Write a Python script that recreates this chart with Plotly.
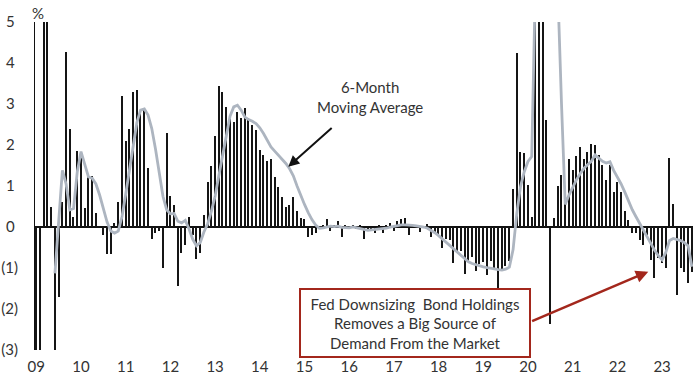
import plotly.graph_objects as go

# Monthly % change, Jan 2009 .. Sep 2023 (bars; values beyond the axis are clipped)
pct_change = [
    -3.6, -3.6, 5.6, 5.6, 0.5, -3.6, -1.7, 0.62, 4.28, 2.4, 0.24, 1.85,      # 2009
    1.7, 0.47, 1.3, 1.25, 0.33, 0.02, -0.2, -0.65, -0.65, 0.1, 0.6, 3.2,       # 2010
    2.1, 2.4, 3.3, 3.35, 2.75, 2.9, 1.43, -0.3, -0.15, -0.1, -1.0, 2.3,        # 2011
    0.76, 0.54, -1.45, -0.64, -0.44, 0.25, -0.2, -0.79, -0.64, 0.29, 1.1, 1.5, # 2012
    2.23, 3.45, 3.3, 2.93, 2.7, 2.57, 2.8, 2.67, 2.9, 2.65, 2.5, 2.37,         # 2013
    1.88, 1.75, 1.6, 1.67, 1.23, 0.98, 0.74, 0.5, 0.54, 0.72, 0.4, 0.22,       # 2014
    0.2, -0.24, -0.2, -0.14, -0.05, 0.05, 0.2, -0.1, 0.05, 0.15, -0.25, 0.05,  # 2015
    0.0, 0.05, -0.05, 0.05, -0.3, -0.1, -0.05, -0.15, 0.03, -0.15, 0.05, 0.1,  # 2016
    -0.1, 0.15, 0.2, 0.22, -0.2, 0.03, 0.02, -0.11, 0.02, 0.07, -0.25, -0.12,  # 2017
    -0.18, -0.52, -0.3, -0.32, -0.89, -0.62, -0.58, -1.14, -0.82, -0.74, -1.07, -0.9,  # 2018
    -0.86, -1.17, -0.82, -1.0, -1.5, -1.02, -0.95, -0.82, 0.92, 4.25, 1.82, 1.8,       # 2019
    1.03, 0.25, 5.6, 5.6, 5.6, 2.6, -2.36, 0.21, 1.0, 1.27, 0.6, 1.67,         # 2020
    1.39, 1.72, 1.96, 1.66, 1.84, 2.02, 2.0, 1.76, 1.51, 1.15, 1.51, 0.86,     # 2021
    1.1, 0.86, 0.4, 0.17, -0.15, -0.15, -0.32, -0.44, -0.2, -0.8, -1.25, -0.76,  # 2022
    -0.89, -1.0, 1.69, 0.55, -1.66, -1.0, -1.09, -1.37, -1.09,                 # 2023
]

# 6-month moving average as drawn
ma6 = [
    None, None, None, None, None, -1.13, 0.1, 1.38, 1.05, 0.42, 0.45, 1.35,
    1.84, 1.55, 1.22, 1.19, 1.05, 0.78, 0.45, 0.12, -0.1, -0.15, -0.1, 0.25,
    0.8, 1.4, 2.0, 2.55, 2.85, 2.88, 2.73, 2.4, 1.9, 1.3, 0.75, 0.42,
    0.32, 0.33, 0.14, 0.1, 0.16, -0.05, -0.3, -0.46, -0.38, -0.12, 0.08, 0.38,
    0.75, 1.25, 1.75, 2.3, 2.7, 2.93, 2.97, 2.85, 2.68, 2.62, 2.58, 2.52,
    2.42, 2.28, 2.1, 1.95, 1.85, 1.75, 1.65, 1.55, 1.42, 1.25, 1.0, 0.75,
    0.55, 0.35, 0.18, 0.05, -0.03, -0.02, 0.0, 0.02, 0.01, 0.02, -0.01, -0.02,
    -0.02, 0.0, -0.02, -0.04, -0.07, -0.08, -0.07, -0.06, -0.05, -0.05, -0.03, 0.0,
    0.02, 0.04, 0.05, 0.05, 0.05, 0.04, 0.03, 0.02, 0.0, -0.03, -0.08, -0.14,
    -0.21, -0.29, -0.37, -0.45, -0.53, -0.62, -0.71, -0.79, -0.85, -0.89, -0.92, -0.95,
    -0.97, -0.99, -1.0, -1.02, -1.04, -1.05, -1.03, -0.98, -0.55, 0.33, 0.99, 1.35,
    1.6, 1.72, 6.0, 9.0, 11.0, 11.0, 10.0, 8.0, 5.8, 3.0, 0.55, 0.78,
    0.97, 1.15, 1.3, 1.43, 1.52, 1.6, 1.76, 1.68, 1.6, 1.56, 1.59, 1.38,
    1.22, 1.05, 0.85, 0.62, 0.42, 0.25, 0.08, -0.06, -0.25, -0.42, -0.57, -0.7,
    -0.8, -0.62, -0.33, -0.28, -0.3, -0.33, -0.38, -0.46, -0.97,
]

year_labels = ["09", "10", "11", "12", "13", "14", "15", "16", "17", "18",
               "19", "20", "21", "22", "23"]
y_tick_values = [-3, -2, -1, 0, 1, 2, 3, 4, 5]
y_tick_labels = ["(3)", "(2)", "(1)", "0\u2008", "1\u2008", "2\u2008", "3\u2008", "4\u2008", "5\u2008"]

months = list(range(len(pct_change)))
year_ticks = [12 * k for k in range(len(year_labels))]

FONT = "Lato"
TXT = "#333333"
RED = "#a3271c"

fig = go.Figure()
fig.add_trace(go.Bar(x=months, y=pct_change, width=0.35,
                     marker=dict(color="#151515", line=dict(width=0)),
                     showlegend=False, hoverinfo="skip"))
fig.add_trace(go.Scatter(x=months, y=ma6, mode="lines",
                         line=dict(color="#adb5c0", width=2.8),
                         showlegend=False, hoverinfo="skip"))

fig.update_layout(
    width=700, height=384,
    margin=dict(l=35, r=7, t=22, b=34, autoexpand=False),
    paper_bgcolor="white", plot_bgcolor="white",
    font=dict(family=FONT, size=15, color=TXT),
    bargap=0,
)
fig.update_xaxes(range=[-0.35, 176.3], tickvals=year_ticks, ticktext=year_labels,
                 showgrid=False, zeroline=False, showline=False, ticks="",
                 automargin=False, ticklabelstandoff=6,
                 tickfont=dict(family=FONT, size=15, color=TXT))
fig.update_yaxes(range=[-3, 5], tickvals=y_tick_values, ticktext=y_tick_labels,
                 showgrid=False, zeroline=True, zerolinecolor="#111111", zerolinewidth=1.5,
                 showline=True, linecolor="#111111", linewidth=1, ticks="",
                 automargin=False, ticklabelstandoff=13,
                 tickfont=dict(family=FONT, size=15, color=TXT))

fig.add_annotation(xref="paper", yref="paper", x=0.0038, y=1.0274,
                   text="%", showarrow=False, xanchor="center", yanchor="middle",
                   font=dict(family=FONT, size=15, color=TXT))
fig.add_annotation(xref="paper", yref="paper", x=0.509, y=0.770,
                   text="6-Month<br>Moving Average", showarrow=False,
                   xanchor="center", yanchor="middle", align="center",
                   font=dict(family=FONT, size=15, color=TXT))
fig.add_annotation(x=67.65, y=1.47, ax=79.7, ay=2.45, axref="x", ayref="y",
                   xref="x", yref="y", text="", showarrow=True,
                   arrowhead=2, arrowsize=1.1, arrowwidth=2, arrowcolor="#111111", standoff=0)
fig.add_annotation(xref="paper", yref="paper", x=0.5775, y=0.0831,
                   text="Fed Downsizing\u00a0 Bond Holdings<br>Removes a Big Source of<br>Demand From the Market",
                   showarrow=False, xanchor="center", yanchor="middle", align="center",
                   width=228, height=66, borderwidth=2, bordercolor=RED, borderpad=0,
                   bgcolor="white", font=dict(family=FONT, size=15, color=TXT))
fig.add_annotation(x=164.3, y=-1.09, ax=132.7, ay=-2.31, axref="x", ayref="y",
                   xref="x", yref="y", text="", showarrow=True,
                   arrowhead=2, arrowsize=1.0, arrowwidth=2.5, arrowcolor=RED, standoff=0)

# remove the default 8px page margin so the 700x384 figure fills the window exactly
fig.write_html("out.html", config={"displayModeBar": False},
               post_script="document.body.style.margin='0';")
